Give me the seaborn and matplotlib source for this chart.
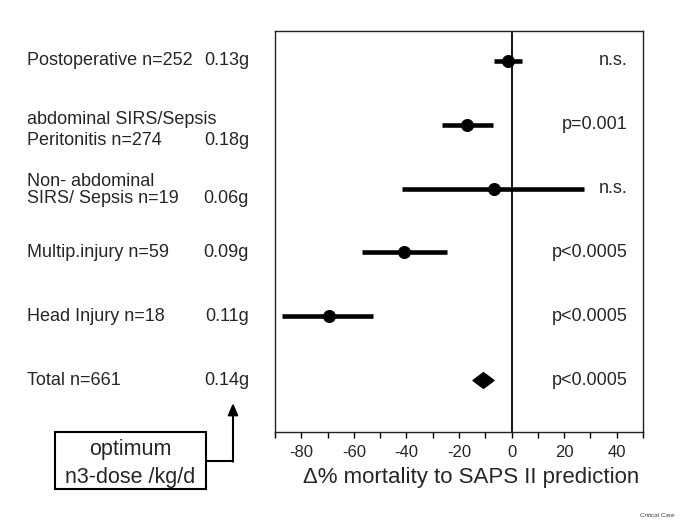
import numpy as np
import pandas as pd
import seaborn as sns
import matplotlib.pyplot as plt
from matplotlib.path import Path
from matplotlib.patches import Rectangle
from matplotlib.lines import Line2D

# ---- data ----
groups = ["Postoperative n=252", "abdominal SIRS/Sepsis\nPeritonitis n=274",
          "Non- abdominal\nSIRS/ Sepsis n=19", "Multip.injury n=59",
          "Head Injury n=18", "Total n=661"]
doses = ["0.13g", "0.18g", "0.06g", "0.09g", "0.11g", "0.14g"]
estimate = [-1.3, -17.1, -6.6, -40.8, -69.5, -10.8]
ci_low = [-6.6, -26.6, -41.6, -57.0, -87.2, None]
ci_high = [3.8, -7.0, 27.5, -24.7, -52.7, None]
pvalues = ["n.s.", "p=0.001", "n.s.", "p<0.0005", "p<0.0005", "p<0.0005"]
kind = ["subgroup", "subgroup", "subgroup", "subgroup", "subgroup", "total"]
xticks_major = [-80, -60, -40, -20, 0, 20, 40]
xticks_minor = [-90, -70, -50, -30, -10, 10, 30, 50]

df = pd.DataFrame({"group": groups, "dose": doses, "est": estimate,
                   "lo": ci_low, "hi": ci_high, "p": pvalues, "kind": kind})
df["row"] = np.arange(len(df))

sns.set_style("white")
plt.rcParams["font.family"] = ["Liberation Sans", "DejaVu Sans"]

fig = plt.figure(figsize=(6.85, 5.22), dpi=100)
ax = fig.add_axes([275/685, 1-432/522, (643-275)/685, (432-31)/522])

# CI lines
sub = df[df["kind"] == "subgroup"]
ax.hlines(sub["row"], sub["lo"], sub["hi"], color="black", lw=3.3, zorder=2)

# points
diamond = Path([(-1, 0), (0, 0.75), (1, 0), (0, -0.75), (-1, 0)],
               [Path.MOVETO, Path.LINETO, Path.LINETO, Path.LINETO, Path.CLOSEPOLY])
sns.scatterplot(data=sub, x="est", y="row", marker="o", s=75, color="black",
                edgecolor="black", ax=ax, zorder=3, legend=False)
sns.scatterplot(data=df[df["kind"] == "total"], x="est", y="row", marker=diamond,
                s=220, color="black", edgecolor="black", ax=ax, zorder=3, legend=False)

ax.axvline(0, color="black", lw=1.3, zorder=1)

ax.set_xlim(-90, 50)
ax.set_ylim(5.815, -0.47)
ax.set_yticks([])
ax.set_xticks(xticks_major)
ax.set_xticks(xticks_minor, minor=True)
ax.set_xticklabels([str(t) for t in xticks_major])
ax.tick_params(axis="x", which="both", direction="out", length=4.5, width=1,
               color="black", labelsize=12, pad=5, bottom=True)
for s in ax.spines.values():
    s.set_color("#222222")
    s.set_linewidth(1.0)
    s.set_visible(True)

ax.set_ylabel("")
ax.set_xlabel("\u0394% mortality to SAPS II prediction", fontsize=16)
ax.xaxis.set_label_coords((471-275)/368, (432-478)/401)
ax.xaxis.label.set_va("center")

tr = ax.get_yaxis_transform()
lab_x = (27-275)/368
dose_x = (249-275)/368
p_x = (628-275)/368
line_offsets = {1: [-0.09, 0.25], 2: [-0.11, 0.16]}
for _, r in df.iterrows():
    lines = r["group"].split("\n")
    offs = line_offsets.get(r["row"], [0.0]) if len(lines) > 1 else [0.0]
    for line, o in zip(lines, offs):
        ax.text(lab_x, r["row"] + o, line, transform=tr, ha="left", va="center",
                fontsize=13, clip_on=False)
    ax.text(dose_x, r["row"] + offs[-1], r["dose"], transform=tr,
            ha="right", va="center", fontsize=13, clip_on=False)
    ax.text(p_x, r["row"], r["p"], transform=tr, ha="right", va="center",
            fontsize=13)

# annotation box with arrow
fig.patches.append(Rectangle((55, 33), 151, 57, transform=None, fill=False,
                             edgecolor="black", lw=1.5))
fig.text(130/685, 72/522, "optimum", ha="center", va="center", fontsize=15.5)
fig.text(130/685, 45/522, "n3-dose /kg/d", ha="center", va="center", fontsize=15.5)
fig.lines.append(Line2D([206, 233], [61, 61], transform=None, color="black", lw=1.5))
ax.annotate("", xy=(233, 119), xycoords="figure pixels", xytext=(233, 60.3),
            textcoords="figure pixels",
            arrowprops=dict(arrowstyle="-|>,head_length=0.7,head_width=0.3",
                            color="black", lw=1.5, shrinkA=0, shrinkB=0))

fig.text(675/685, 4/522, "Critical Care", ha="right", va="bottom", fontsize=4.5,
         style="italic", color="#333333")

fig.savefig("out.png", dpi=100)
